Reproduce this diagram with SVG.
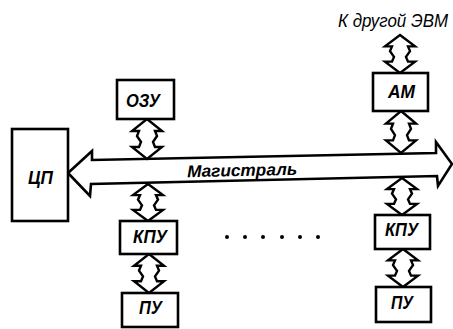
<svg xmlns="http://www.w3.org/2000/svg" xmlns:xlink="http://www.w3.org/1999/xlink" width="453" height="329" viewBox="0 0 453 329">
<style>
.box{fill:#fff;stroke:#000;stroke-width:2.6}
.lbl{font-family:"Liberation Sans",Arial,sans-serif;font-style:italic;font-weight:bold;font-size:19px;fill:#000;text-anchor:middle}
.bus-lbl{font-size:17px}
.ext-lbl{font-size:17.5px;font-weight:normal}
.arr{fill:#fff;stroke:#000;stroke-width:2.4;stroke-linejoin:miter;vector-effect:non-scaling-stroke}
.bus{fill:#fff;stroke:#000;stroke-width:2.6;stroke-linejoin:miter}
</style>
<defs>
<path id="dar" class="arr" d="M0,0 L15,12 L8,12 L10,17 L6,23 L8,28 L15,28 L0,40 L-15,28 L-8,28 L-6,23 L-10,17 L-8,12 L-15,12 Z"/>
</defs>
<rect width="453" height="329" fill="#fff"/>
<g id="connectors">
<path id="bus" class="bus" d="M68,173 L92,151 L92,160 L436,153 L436,142 L452,164 L438,186 L437,176 L91,184 L90,196 Z"/>
<text class="lbl bus-lbl" x="242" y="176" textLength="110" lengthAdjust="spacingAndGlyphs" transform="rotate(-1.2 242 170)">Магистраль</text>
<use xlink:href="#dar" transform="translate(147,119) scale(1,1)"/>
<use xlink:href="#dar" transform="translate(148,184) scale(1,0.925)"/>
<use xlink:href="#dar" transform="translate(149,254) scale(1,0.975)"/>
<use xlink:href="#dar" transform="translate(400,35) scale(1,0.95)"/>
<use xlink:href="#dar" transform="translate(401,111) scale(1,1.05)"/>
<use xlink:href="#dar" transform="translate(402,178) scale(1,0.925)"/>
<use xlink:href="#dar" transform="translate(403,249) scale(1,0.95)"/>
</g>
<g id="cp"><rect class="box" x="12" y="129" width="56" height="92"/><text class="lbl" x="40.5" y="184" textLength="25" lengthAdjust="spacingAndGlyphs">ЦП</text></g>
<g id="ozu"><rect class="box" x="117" y="80" width="57" height="39"/><text class="lbl" x="143" y="107" textLength="34" lengthAdjust="spacingAndGlyphs">ОЗУ</text></g>
<g id="kpu1"><rect class="box" x="120" y="221" width="57" height="33"/><text class="lbl" x="150" y="243" textLength="34" lengthAdjust="spacingAndGlyphs">КПУ</text></g>
<g id="pu1"><rect class="box" x="122" y="293" width="56" height="34"/><text class="lbl" x="150.5" y="314" textLength="23" lengthAdjust="spacingAndGlyphs">ПУ</text></g>
<g id="am"><rect class="box" x="373" y="73" width="55" height="38"/><text class="lbl" x="401.5" y="98" textLength="27" lengthAdjust="spacingAndGlyphs">АМ</text></g>
<g id="kpu2"><rect class="box" x="375" y="215" width="55" height="34"/><text class="lbl" x="401.5" y="236" textLength="33" lengthAdjust="spacingAndGlyphs">КПУ</text></g>
<g id="pu2"><rect class="box" x="376" y="287" width="55" height="35"/><text class="lbl" x="402" y="309" textLength="22" lengthAdjust="spacingAndGlyphs">ПУ</text></g>
<g id="ext"><text class="lbl ext-lbl" x="393" y="27" textLength="110" lengthAdjust="spacingAndGlyphs">К другой ЭВМ</text></g>
<g id="dots" fill="#000">
<circle cx="227" cy="237" r="2"/><circle cx="245" cy="237" r="2"/><circle cx="263" cy="237" r="2"/><circle cx="282" cy="237" r="2"/><circle cx="300" cy="237" r="2"/><circle cx="318" cy="237" r="2"/>
</g>
</svg>
